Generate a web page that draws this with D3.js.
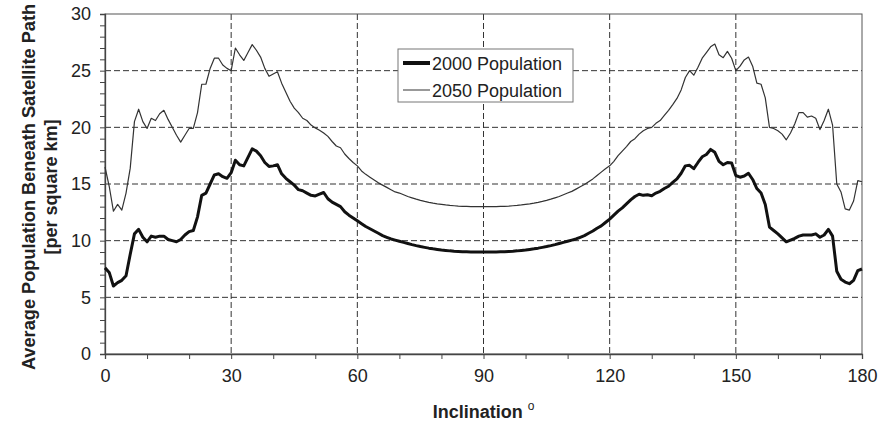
<!DOCTYPE html>
<html>
<head>
<meta charset="utf-8">
<script src="https://cdn.jsdelivr.net/npm/d3@7"></script>
<style>
  body { margin: 0; background: #fff; }
  svg text { font-family: "Liberation Sans", Arial, sans-serif; fill: #222; }
</style>
</head>
<body>
<div id="chart"></div>
<script>
// inclination in degrees, one reading per degree
var inclination = d3.range(0, 181);

var pop2000 = [
  7.6, 7.2, 6.0, 6.3, 6.5, 6.9, 8.8, 10.6, 11.0, 10.3,
  9.9, 10.4, 10.3, 10.4, 10.4, 10.1, 10.0, 9.9, 10.1, 10.5,
  10.8, 10.9, 12.1, 14.0, 14.2, 15.0, 15.8, 15.9, 15.65, 15.5,
  16.0, 17.1, 16.7, 16.6, 17.35, 18.1, 17.9, 17.5, 16.9, 16.55,
  16.6, 16.7, 15.9, 15.5, 15.2, 14.9, 14.5, 14.4, 14.2, 14.0,
  13.95, 14.1, 14.25, 13.7, 13.4, 13.2, 13.0, 12.55, 12.25, 12.0,
  11.75, 11.5, 11.25, 11.05, 10.85, 10.65, 10.45, 10.3, 10.15, 10.05,
  9.95, 9.85, 9.75, 9.65, 9.56, 9.48, 9.41, 9.34, 9.28, 9.23,
  9.18, 9.14, 9.1, 9.07, 9.05, 9.03, 9.02, 9.01, 9.0, 9.0,
  9.0, 9.0, 9.0, 9.01, 9.02, 9.03, 9.05, 9.07, 9.1, 9.14,
  9.18, 9.23, 9.28, 9.34, 9.41, 9.48, 9.56, 9.65, 9.75, 9.85,
  9.95, 10.05, 10.15, 10.3, 10.45, 10.65, 10.85, 11.1, 11.3, 11.6,
  11.9, 12.25, 12.6, 12.9, 13.25, 13.6, 13.9, 14.1, 14.0, 14.05,
  13.97, 14.2, 14.35, 14.6, 14.8, 15.15, 15.45, 15.95, 16.6, 16.65,
  16.35, 16.9, 17.4, 17.6, 18.05, 17.8, 17.0, 16.7, 16.9, 16.85,
  15.75, 15.6, 15.7, 15.95, 15.4, 14.6, 14.2, 13.2, 11.2, 10.9,
  10.6, 10.25, 9.9, 10.05, 10.2, 10.4, 10.5, 10.5, 10.5, 10.6,
  10.3, 10.5, 11.0, 10.4, 7.3, 6.6, 6.35, 6.2, 6.5, 7.35,
  7.5
];

var pop2050 = [
  16.5, 14.8, 12.6, 13.2, 12.7, 14.2, 16.4, 20.5, 21.6, 20.5,
  19.9, 20.8, 20.6, 21.2, 21.5, 20.7, 20.0, 19.3, 18.7, 19.3,
  19.9, 19.9, 21.3, 23.8, 23.8, 25.2, 26.1, 26.1, 25.5, 25.2,
  25.0, 27.0, 26.4, 25.9, 26.6, 27.3, 26.8, 26.2, 25.2, 24.5,
  24.7, 24.9, 23.9, 23.1, 22.3, 21.7, 21.3, 20.8, 20.6, 20.2,
  19.95, 19.75, 19.5, 19.2, 18.75, 18.35, 18.2, 17.65, 17.25, 16.9,
  16.6, 16.15, 15.85, 15.6, 15.35, 15.1, 14.9, 14.7, 14.5, 14.3,
  14.2, 14.05, 13.9, 13.78, 13.66, 13.55, 13.46, 13.38, 13.31, 13.25,
  13.2, 13.15, 13.11, 13.08, 13.05, 13.03, 13.02, 13.01, 13.0, 13.0,
  13.0, 13.0, 13.0, 13.01, 13.02, 13.03, 13.05, 13.08, 13.11, 13.15,
  13.2, 13.25, 13.31, 13.38, 13.46, 13.55, 13.66, 13.78, 13.9, 14.05,
  14.2, 14.35, 14.55, 14.75, 14.95, 15.2, 15.45, 15.75, 16.05, 16.35,
  16.6, 17.0, 17.5, 17.9, 18.3, 18.75, 19.0, 19.4, 19.7, 19.9,
  20.0, 20.35, 20.6, 21.05, 21.5, 22.0, 22.55, 23.3, 24.4, 25.0,
  24.6, 25.3, 26.1, 26.6, 27.1, 27.35, 26.4, 26.15, 26.7, 26.1,
  25.0, 25.4, 25.95, 26.2, 25.4, 23.9, 23.8, 22.6, 20.0, 19.9,
  19.7, 19.4, 18.9, 19.5, 20.3, 21.3, 21.3, 20.9, 21.0, 20.8,
  19.8, 20.6, 21.6, 20.2, 15.0, 14.3, 12.8, 12.7, 13.5, 15.3,
  15.2
];

var xTicks = [0, 30, 60, 90, 120, 150, 180];
var yTicks = [0, 5, 10, 15, 20, 25, 30];
var seriesNames = ["2000 Population", "2050 Population"];

var W = 885, H = 427;
var m = {top: 14, right: 23, bottom: 73, left: 105};
var w = W - m.left - m.right;
var h = H - m.top - m.bottom;

var x = d3.scaleLinear().domain([0, 180]).range([0, w]);
var y = d3.scaleLinear().domain([0, 30]).range([h, 0]);

var svg = d3.select("#chart").append("svg")
  .attr("width", W)
  .attr("height", H);

var g = svg.append("g")
  .attr("transform", "translate(" + m.left + "," + m.top + ")");

// dashed grid
g.append("g").selectAll("line")
  .data(yTicks.slice(1, -1))
  .enter().append("line")
  .attr("x1", 0).attr("x2", w)
  .attr("y1", function(d) { return y(d); })
  .attr("y2", function(d) { return y(d); })
  .attr("stroke", "#333").attr("stroke-width", 1)
  .attr("stroke-dasharray", "6,3");

g.append("g").selectAll("line")
  .data(xTicks.slice(1, -1))
  .enter().append("line")
  .attr("y1", 0).attr("y2", h)
  .attr("x1", function(d) { return x(d); })
  .attr("x2", function(d) { return x(d); })
  .attr("stroke", "#333").attr("stroke-width", 1)
  .attr("stroke-dasharray", "6,3");

// frame
g.append("rect")
  .attr("width", w).attr("height", h)
  .attr("fill", "none").attr("stroke", "#555").attr("stroke-width", 1);

// axes
var xAxis = d3.axisBottom(x).tickValues(d3.range(0, 181, 10)).tickSize(5)
  .tickFormat(function(d) { return xTicks.indexOf(d) >= 0 ? d : ""; });
var yAxis = d3.axisLeft(y).tickValues(d3.range(0, 31, 1)).tickSize(5)
  .tickFormat(function(d) { return yTicks.indexOf(d) >= 0 ? d : ""; });

var gx = g.append("g").attr("transform", "translate(0," + h + ")").call(xAxis);
var gy = g.append("g").call(yAxis);

[gx, gy].forEach(function(a) {
  a.select(".domain").attr("stroke", "#444").attr("stroke-width", 1.3);
  a.selectAll(".tick line").attr("stroke", "#444");
  a.selectAll(".tick text").style("font-size", "18px").attr("fill", "#222");
});
gx.selectAll(".tick text").attr("dy", "1.1em");
gy.selectAll(".tick text").attr("x", -14);

// lines
var popLine = d3.line()
  .x(function(d, i) { return x(inclination[i]); })
  .y(function(d) { return y(d); });

g.append("path")
  .attr("d", popLine(pop2050))
  .attr("fill", "none")
  .attr("stroke", "#333")
  .attr("stroke-width", 1.2)
  .attr("stroke-linejoin", "round");

g.append("path")
  .attr("d", popLine(pop2000))
  .attr("fill", "none")
  .attr("stroke", "#111")
  .attr("stroke-width", 3)
  .attr("stroke-linejoin", "round");

// legend
var lg = svg.append("g").attr("transform", "translate(398,49)");
lg.append("rect")
  .attr("width", 175).attr("height", 53)
  .attr("fill", "#fff").attr("stroke", "#777").attr("stroke-width", 1);

seriesNames.forEach(function(name, i) {
  var yy = 14 + i * 27;
  lg.append("line")
    .attr("x1", 5).attr("x2", 32)
    .attr("y1", yy).attr("y2", yy)
    .attr("stroke", i === 0 ? "#111" : "#555")
    .attr("stroke-width", i === 0 ? 4 : 1.2);
  lg.append("text")
    .attr("x", 34).attr("y", yy + 6.5)
    .style("font-size", "18px")
    .text(name);
});

// axis titles
var xt = svg.append("text")
  .attr("x", m.left + w / 2).attr("y", 418)
  .attr("text-anchor", "middle")
  .style("font-size", "18px").style("font-weight", "bold");
xt.append("tspan").text("Inclination ");
xt.append("tspan").attr("dy", -8).style("font-size", "12px").style("font-weight", "normal").text("o");

var yt = svg.append("g")
  .attr("transform", "translate(0,187) rotate(-90)");
yt.append("text")
  .attr("x", 0).attr("y", 35)
  .attr("text-anchor", "middle")
  .style("font-size", "18.2px").style("font-weight", "bold")
  .text("Average Population Beneath Satellite Path");
yt.append("text")
  .attr("x", 0).attr("y", 57)
  .attr("text-anchor", "middle")
  .style("font-size", "18px").style("font-weight", "bold")
  .text("[per square km]");
</script>
</body>
</html>
